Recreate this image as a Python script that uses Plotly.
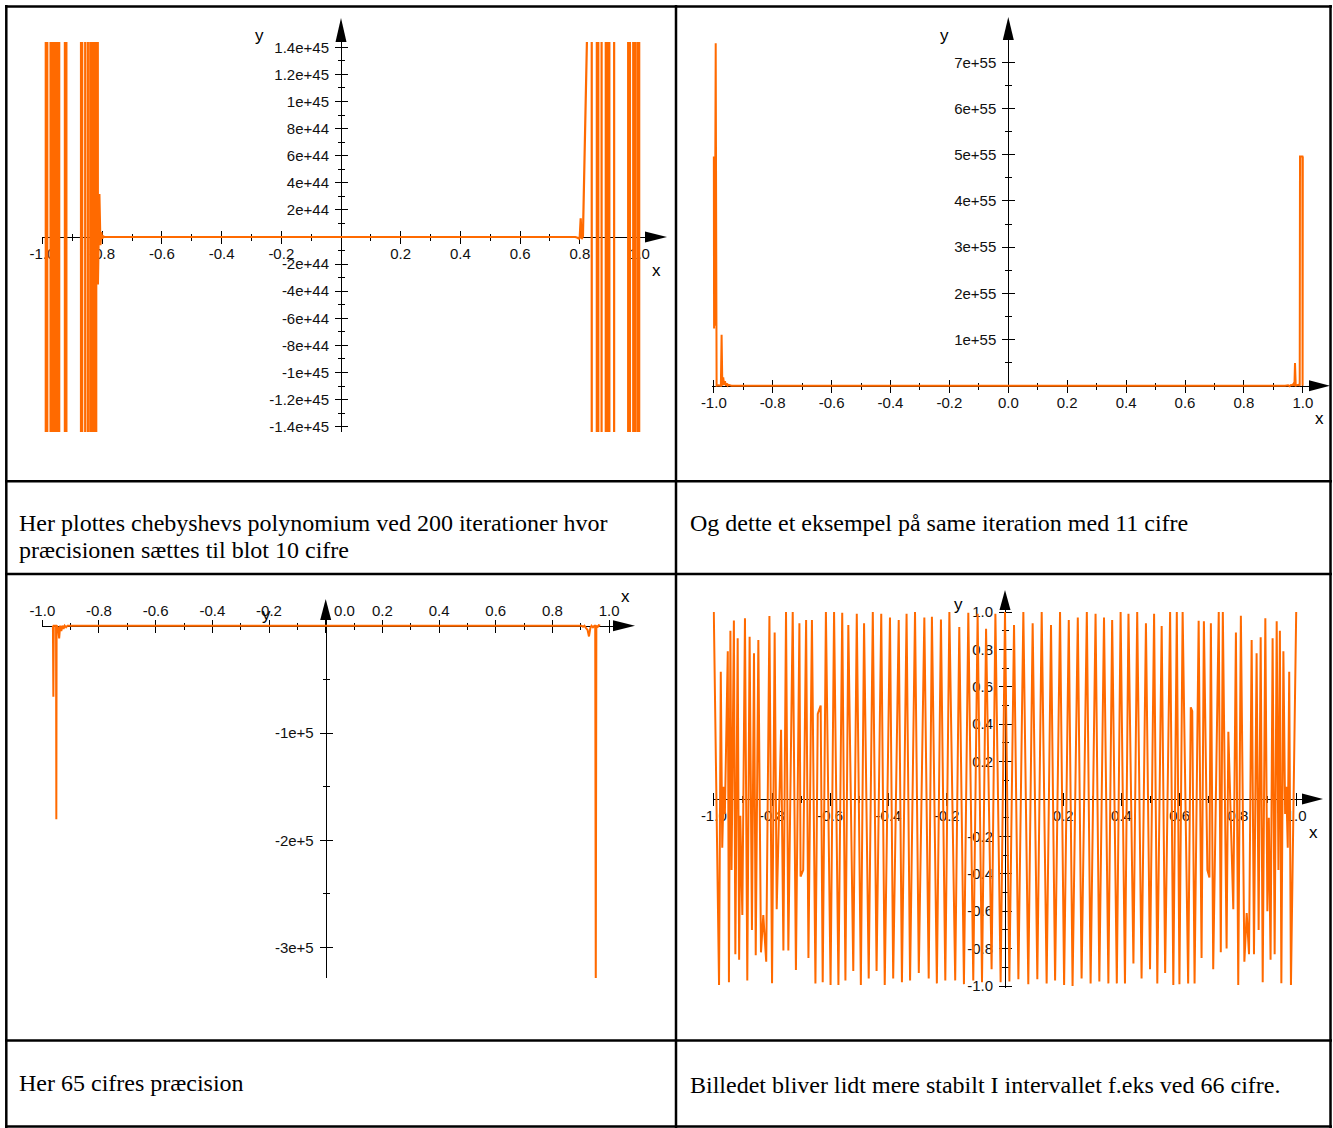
import plotly.graph_objects as go

W, H = 1333, 1128
ORANGE = "#ff6a00"
SANS = "Liberation Sans, Arial, sans-serif"
SERIF = "Liberation Serif, Times New Roman, serif"

# ---------------- data: panel 1 (10 digits) ----------------
p1_x = [-1.0,
        -0.9894, -0.9886, -0.9844, -0.9836, -0.9734, -0.9726, -0.9684, -0.9676,
        -0.9624, -0.9616, -0.9584, -0.9576, -0.9534, -0.9526, -0.9484, -0.9476,
        -0.9444, -0.9436, -0.9254, -0.9246, -0.9204, -0.9196, -0.8714, -0.8706,
        -0.8674, -0.8666, -0.8574, -0.8566, -0.8484, -0.8476, -0.8404, -0.8396,
        -0.8344, -0.8336, -0.8314, -0.8306, -0.8254, -0.8246, -0.8204, -0.8196,
        -0.8145, -0.8095, -0.806, -0.803, -0.800, -0.797, -0.793,
        0.785, 0.790, 0.797, 0.800, 0.803, 0.806, 0.8105, 0.8255,
        0.8396, 0.8404, 0.8566, 0.8574, 0.8616, 0.8624, 0.8726, 0.8734,
        0.8866, 0.8874, 0.8926, 0.8934, 0.8986, 0.8994, 0.9146, 0.9154,
        0.9616, 0.9624, 0.9676, 0.9684, 0.9786, 0.9794, 0.9856, 0.9864,
        0.9936, 0.9944, 0.9986, 0.9994, 1.0]
p1_y = [3.1e46,
        3.3e46, -3.6e46, -3.2e46, 3.5e46, 3.4e46, -3.1e46, -3.3e46, 3.2e46,
        3.6e46, -3.4e46, -3.2e46, 3.5e46, 3.3e46, -3.6e46, -3.1e46, 3.4e46,
        3.2e46, -3.5e46, -3.3e46, 3.1e46, 3.4e46, -3.2e46, -3.5e46, 3.3e46,
        3.1e46, -3.4e46, -3.6e46, 3.2e46, 3.3e46, -3.5e46, -3.2e46, 3.6e46,
        3.4e46, -3.1e46, -3.3e46, 3.5e46, 3.2e46, -3.4e46, -3.6e46, 3.3e46,
        -3.5e44, 3.17e44, -0.6e44, 0.35e44, -0.12e44, 0.05e44, 0.0,
        0.0, -0.03e44, -0.12e44, 0.05e44, 1.38e44, -0.15e44, 0.05e44, 1.62e45,
        3.4e46, -3.2e46, -3.5e46, 3.1e46, 3.3e46, -3.6e46, -3.2e46, 3.4e46,
        3.5e46, -3.1e46, -3.3e46, 3.6e46, 3.2e46, -3.4e46, -3.5e46, 3.3e46,
        3.1e46, -3.2e46, -3.4e46, 3.6e46, 3.3e46, -3.5e46, -3.1e46, 3.2e46,
        3.4e46, -3.3e46, -3.6e46, 3.5e46, 3.4e46]

# ---------------- data: panel 2 (11 digits) ----------------
p2_x = [-1.0, -0.999, -0.998, -0.997, -0.9935, -0.9905, -0.985, -0.976, -0.9735,
        -0.971, -0.968, -0.965, -0.962, -0.959, -0.956, -0.953, -0.950, -0.940,
        0.940, 0.950, 0.955, 0.960, 0.965, 0.968, 0.9715, 0.9735, 0.976, 0.985,
        0.9895, 0.9905, 0.9985, 0.9993, 1.0]
p2_y = [4.96e55, 1.24e55, 4.9e55, 1.3e55, 7.41e55, 0.0, 0.01e55, 0.0, 1.1e55,
        0.0, 0.18e55, 0.02e55, 0.1e55, 0.0, 0.05e55, 0.0, 0.02e55, 0.0,
        0.0, 0.01e55, -0.01e55, 0.015e55, 0.01e55, 0.04e55, 0.0, 0.49e55, 0.0, 0.02e55,
        0.0, 4.96e55, 4.96e55, 0.0, 4.96e55]

# ---------------- data: panel 3 (65 digits) ----------------
p3_x = [-0.9625, -0.961, -0.9595, -0.9515, -0.9505, -0.9495, -0.944, -0.9405,
        -0.937, -0.933, -0.929, -0.925, -0.921, -0.916, -0.911,
        0.903, 0.908, 0.913, 0.918, 0.924, 0.929, 0.934, 0.938, 0.943, 0.9485,
        0.951, 0.953, 0.955, 0.960, 0.9635, 0.9685]
p3_y = [0.0, -0.662e5, 0.0, 0.0, -1.804e5, 0.0, -0.02e5, -0.118e5,
        0.0, -0.05e5, 0.0, -0.03e5, 0.0, -0.015e5, 0.0,
        0.0, -0.01e5, 0.0, -0.02e5, -0.04e5, -0.10e5, -0.02e5, 0.0, -0.015e5, 0.0,
        0.0, -3.4e5, 0.0, -0.01e5, 0.004e5, 0.0]

# ---------------- data: panel 4 (66 digits) ----------------
p4_x = [-1.0, -0.982, -0.976, -0.971, -0.966, -0.962, -0.952, -0.948, -0.943, -0.939,
        -0.931, -0.926, -0.918, -0.913, -0.909, -0.902, -0.893, -0.885, -0.877, -0.869,
        -0.862, -0.856, -0.847, -0.838, -0.830, -0.820, -0.809, -0.800, -0.791, -0.784,
        -0.769, -0.761, -0.752, -0.744, -0.729, -0.718, -0.706, -0.702, -0.693, -0.683,
        -0.675, -0.663, -0.651, -0.643, -0.633, -0.626, -0.615, -0.599, -0.587, -0.572,
        -0.559, -0.548, -0.538, -0.521, -0.509, -0.495, -0.484, -0.468, -0.454, -0.441,
        -0.425, -0.413, -0.395, -0.384, -0.365, -0.354, -0.338, -0.326, -0.309, -0.296,
        -0.277, -0.262, -0.251, -0.234, -0.220, -0.205, -0.191, -0.171, -0.157, -0.141,
        -0.126, -0.109, -0.094, -0.079, -0.065, -0.046, -0.033, -0.015, 0.0,
        0.015, 0.031, 0.046, 0.063, 0.080, 0.095, 0.111, 0.126, 0.143, 0.158,
        0.172, 0.189, 0.203, 0.219, 0.232, 0.250, 0.263, 0.281, 0.294, 0.311,
        0.324, 0.340, 0.355, 0.368, 0.384, 0.397, 0.412, 0.424, 0.441, 0.454,
        0.469, 0.484, 0.498, 0.512, 0.523, 0.538, 0.550, 0.567, 0.578, 0.590,
        0.599, 0.610, 0.629, 0.638, 0.643, 0.651, 0.665, 0.675, 0.683, 0.695,
        0.702, 0.707, 0.715, 0.734, 0.741, 0.748, 0.761, 0.767, 0.784, 0.793,
        0.801, 0.810, 0.822, 0.830, 0.838, 0.847, 0.855, 0.864, 0.871, 0.878,
        0.885, 0.894, 0.901, 0.906, 0.912, 0.919, 0.926, 0.933, 0.939, 0.944,
        0.949, 0.956, 0.962, 0.966, 0.971, 0.976, 0.982, 1.0]
p4_y = [1.0, -0.995, 0.68, -0.26, 0.066, -0.08, 0.79, -0.98, 0.90, -0.38,
        0.955, -0.83, 0.86, -0.86, -0.09, -0.62, 0.966, -0.97, 0.868, -0.70,
        0.78, -0.835, 0.85, -0.82, -0.62, -0.87, 0.978, -0.985, 0.89, -0.59,
        0.37, -0.81, 1.0, -0.81, 1.0, -0.914, 0.94, -0.415, -0.38, 0.957,
        -0.85, 0.957, -0.986, 0.455, 0.50, -0.98, 1.0, -0.995, 1.0, -0.995,
        0.996, -0.97, 0.93, -0.92, 0.99, -0.995, 0.94, -0.96, 1.0, -0.92,
        0.99, -0.995, 0.97, -0.96, 0.957, -0.98, 0.99, -0.97, 1.0, -0.93,
        0.97, -0.96, 0.975, -0.986, 0.96, -0.97, 1.0, -0.97, 0.92, -0.99,
        0.996, -0.97, 0.99, -0.98, 0.91, -0.91, 0.99, -0.98, 1.0,
        -0.976, 0.93, -0.964, 1.0, -0.99, 0.94, -0.964, 1.0, -0.986, 0.93,
        -0.97, 1.0, -0.995, 0.957, -1.0, 0.97, -0.96, 1.0, -0.986, 0.99,
        -0.976, 0.97, -0.986, 0.957, -0.986, 1.0, -0.986, 0.99, -0.88, 1.0,
        -0.96, 0.94, -0.91, 0.99, -0.986, 0.925, -0.93, 1.0, -0.995, 1.0,
        -0.99, 1.0, -0.986, 0.49, 0.47, -0.986, 0.953, -0.85, 0.95, -0.38,
        -0.42, 0.94, -0.91, 1.0, -0.82, 1.0, -0.80, 0.36, -0.59, 0.89,
        -0.995, 0.98, -0.87, -0.61, -0.83, 0.85, -0.83, 0.78, -0.70, 0.865,
        -0.98, 0.966, -0.60, -0.10, -0.86, 0.86, -0.83, 0.95, -0.38, 0.90,
        -0.985, 0.79, -0.08, 0.066, -0.26, 0.68, -0.995, 1.0]

# ---------------- ticks ----------------
xt_vals_no0 = [-1.0, -0.8, -0.6, -0.4, -0.2, 0.2, 0.4, 0.6, 0.8, 1.0]
xt_text_no0 = ["-1.0", "-0.8", "-0.6", "-0.4", "-0.2", "0.2", "0.4", "0.6", "0.8", "1.0"]
xt_vals_all = [-1.0, -0.8, -0.6, -0.4, -0.2, 0.0, 0.2, 0.4, 0.6, 0.8, 1.0]
xt_text_all = ["-1.0", "-0.8", "-0.6", "-0.4", "-0.2", "0.0", "0.2", "0.4", "0.6", "0.8", "1.0"]
xt_text_p3 = ["-1.0", "-0.8", "-0.6", "-0.4", "-0.2", "\u00a0" * 9 + "0.0",
              "0.2", "0.4", "0.6", "0.8", "1.0"]

p1_yvals = [1.4e45, 1.2e45, 1e45, 8e44, 6e44, 4e44, 2e44,
            -2e44, -4e44, -6e44, -8e44, -1e45, -1.2e45, -1.4e45]
p1_ytext = ["1.4e+45", "1.2e+45", "1e+45", "8e+44", "6e+44", "4e+44", "2e+44",
            "-2e+44", "-4e+44", "-6e+44", "-8e+44", "-1e+45", "-1.2e+45", "-1.4e+45"]
p2_yvals = [1e55, 2e55, 3e55, 4e55, 5e55, 6e55, 7e55]
p2_ytext = ["1e+55", "2e+55", "3e+55", "4e+55", "5e+55", "6e+55", "7e+55"]
p3_yvals = [-1e5, -2e5, -3e5]
p3_ytext = ["-1e+5", "-2e+5", "-3e+5"]
p4_yvals = [1.0, 0.8, 0.6, 0.4, 0.2, -0.2, -0.4, -0.6, -0.8, -1.0]
p4_ytext = ["1.0", "0.8", "0.6", "0.4", "0.2", "-0.2", "-0.4", "-0.6", "-0.8", "-1.0"]

captions = [
    ("Her plottes chebyshevs polynomium ved 200 iterationer hvor", 17, 523),
    ("præcisionen sættes til blot 10 cifre", 17, 550),
    ("Og dette et eksempel på same iteration med 11 cifre", 688, 523),
    ("Her 65 cifres præcision", 17, 1083),
    ("Billedet bliver lidt mere stabilt I intervallet f.eks ved 66 cifre.", 688, 1085),
]

# ---------------- layout geometry (pixels) ----------------
panels = [
    dict(x=p1_x, y=p1_y, x0=341.0, sx=298.5, y0=237.0, sy=27.1 / 2e44,
         dx=(42.0, 645.0), dy=(41.9, 432.1), xv=xt_vals_no0, xt=xt_text_no0,
         yv=p1_yvals, yt=p1_ytext, xm=0.1, ym=1e44, xside="bottom", xso=-3,
         xarrow=(645, 667), yarrow=(41.9, 18), xlab=(656, 270), ylab=(259, 35), lw=2.2),
    dict(x=p2_x, y=p2_y, x0=1008.3, sx=294.5, y0=385.7, sy=46.2 / 1e55,
         dx=(712.3, 1309.0), dy=(40.0, 390.3), xv=xt_vals_all, xt=xt_text_all,
         yv=p2_yvals, yt=p2_ytext, xm=0.1, ym=0.5e55, xside="bottom", xso=-3,
         xarrow=(1309, 1330), yarrow=(40, 17), xlab=(1319, 418), ylab=(944, 35), lw=2.0),
    dict(x=p3_x, y=p3_y, x0=325.7, sx=283.4, y0=625.7, sy=107.3 / 1e5,
         dx=(41.7, 613.0), dy=(620.0, 978.0), xv=xt_vals_all, xt=xt_text_p3,
         yv=p3_yvals, yt=p3_ytext, xm=0.1, ym=0.5e5, xside="top", xso=-2,
         xarrow=(613, 635), yarrow=(620, 599), xlab=(625, 596), ylab=(266, 614), lw=2.0),
    dict(x=p4_x, y=p4_y, x0=1005.0, sx=291.2, y0=799.0, sy=187.0,
         dx=(712.5, 1302.0), dy=(610.0, 988.2), xv=xt_vals_no0, xt=xt_text_no0,
         yv=p4_yvals, yt=p4_ytext, xm=0.1, ym=0.1, xside="bottom", xso=-3,
         xarrow=(1302, 1323), yarrow=(610, 590), xlab=(1313, 832), ylab=(958, 604), lw=2.0),
]


def fx(px):
    return px / W


def fy(py):
    return 1 - py / H


def build(use_standoff):
    fig = go.Figure()
    layout = dict(template="none", width=W, height=H, autosize=False,
                  margin=dict(l=0, r=0, t=0, b=0, pad=0, autoexpand=False),
                  paper_bgcolor="white", plot_bgcolor="rgba(0,0,0,0)",
                  showlegend=False, shapes=[], annotations=[])
    tickfont = dict(family=SANS, size=15, color="#111111")

    for i, p in enumerate(panels, start=1):
        xr = [(p["dx"][0] - p["x0"]) / p["sx"], (p["dx"][1] - p["x0"]) / p["sx"]]
        yr = [(p["y0"] - p["dy"][1]) / p["sy"], (p["y0"] - p["dy"][0]) / p["sy"]]
        xdom = [fx(p["dx"][0]), fx(p["dx"][1])]
        ydom = [fy(p["dy"][1]), fy(p["dy"][0])]
        xpos = fy(p["y0"])
        ypos = fx(p["x0"])
        xa = "x" if i == 1 else f"x{i}"
        ya = "y" if i == 1 else f"y{i}"
        xo, yo = f"x{i + 4}", f"y{i + 4}"
        xk = "xaxis" if i == 1 else f"xaxis{i}"
        yk = "yaxis" if i == 1 else f"yaxis{i}"

        common = dict(showgrid=False, zeroline=False, layer="below traces",
                      automargin=False, tickcolor="black", tickwidth=1, ticklen=6,
                      fixedrange=True)
        layout[xk] = dict(common, domain=xdom, range=xr, anchor="free", position=xpos,
                          side=p["xside"], showline=True, linecolor="black", linewidth=1,
                          ticks="outside", tickmode="array", tickvals=p["xv"],
                          ticktext=p["xt"], tickfont=tickfont,
                          minor=dict(ticks="outside", ticklen=3, tickcolor="black",
                                     dtick=p["xm"], tick0=0))
        layout[yk] = dict(common, domain=ydom, range=yr, anchor="free", position=ypos,
                          side="left", showline=True, linecolor="black", linewidth=1,
                          ticks="outside", tickmode="array", tickvals=p["yv"],
                          ticktext=p["yt"], tickfont=tickfont,
                          minor=dict(ticks="outside", ticklen=3, tickcolor="black",
                                     dtick=p["ym"], tick0=0))
        if use_standoff:
            layout[xk]["ticklabelstandoff"] = p["xso"]
            layout[yk]["ticklabelstandoff"] = 3
        # overlay axes giving the other half of the crossing ticks
        layout[f"xaxis{i + 4}"] = dict(common, domain=xdom, range=xr, anchor="free",
                                       position=xpos, overlaying=xa, side=p["xside"],
                                       showline=False, ticks="inside", tickmode="array",
                                       tickvals=p["xv"], showticklabels=False,
                                       minor=dict(ticks="inside", ticklen=3,
                                                  tickcolor="black", dtick=p["xm"], tick0=0))
        layout[f"yaxis{i + 4}"] = dict(common, domain=ydom, range=yr, anchor="free",
                                       position=ypos, overlaying=ya, side="left",
                                       showline=False, ticks="inside", tickmode="array",
                                       tickvals=p["yv"], showticklabels=False,
                                       minor=dict(ticks="inside", ticklen=3,
                                                  tickcolor="black", dtick=p["ym"], tick0=0))

        fig.add_trace(go.Scatter(x=[None], y=[None], xaxis=xo, yaxis=yo,
                                 mode="lines", hoverinfo="skip"))
        fig.add_trace(go.Scatter(x=p["x"], y=p["y"], xaxis=xa, yaxis=ya, mode="lines",
                                 line=dict(color=ORANGE, width=p["lw"], simplify=False),
                                 hoverinfo="skip"))

        # arrow heads at the ends of the axes
        bx, tx = p["xarrow"]
        yy = p["y0"]
        layout["shapes"].append(dict(
            type="path", xref="paper", yref="paper", fillcolor="black", line=dict(width=0),
            path=f"M {fx(bx)},{fy(yy - 5.5)} L {fx(tx)},{fy(yy)} L {fx(bx)},{fy(yy + 5.5)} Z"))
        by, ty = p["yarrow"]
        xx = p["x0"]
        layout["shapes"].append(dict(
            type="path", xref="paper", yref="paper", fillcolor="black", line=dict(width=0),
            path=f"M {fx(xx - 5.5)},{fy(by)} L {fx(xx)},{fy(ty)} L {fx(xx + 5.5)},{fy(by)} Z"))
        for txt, (lx, ly) in (("x", p["xlab"]), ("y", p["ylab"])):
            layout["annotations"].append(dict(
                text=txt, x=fx(lx), y=fy(ly), xref="paper", yref="paper", showarrow=False,
                xanchor="center", yanchor="middle",
                font=dict(family=SANS, size=17, color="black")))

    # captions
    for txt, lx, ly in captions:
        layout["annotations"].append(dict(
            text=txt, x=fx(lx), y=fy(ly), xref="paper", yref="paper", showarrow=False,
            xanchor="left", yanchor="middle",
            font=dict(family=SERIF, size=24, color="black")))

    # table rules
    rules_h = [6.5, 481.3, 574.0, 1040.5, 1126.5]
    rules_v = [6.3, 676.0, 1330.5]
    for yy in rules_h:
        layout["shapes"].append(dict(type="line", xref="paper", yref="paper",
                                     x0=fx(5), x1=fx(1332), y0=fy(yy), y1=fy(yy),
                                     line=dict(color="black", width=2.5)))
    for xx in rules_v:
        layout["shapes"].append(dict(type="line", xref="paper", yref="paper",
                                     x0=fx(xx), x1=fx(xx), y0=fy(5), y1=fy(1128),
                                     line=dict(color="black", width=2.5)))
    fig.update_layout(**layout)
    return fig


try:
    fig = build(True)
except Exception:
    fig = build(False)

fig.write_html("out.html",
               post_script="document.body.style.margin='0';"
                           "document.body.style.padding='0';"
                           "document.body.style.overflow='hidden';")
